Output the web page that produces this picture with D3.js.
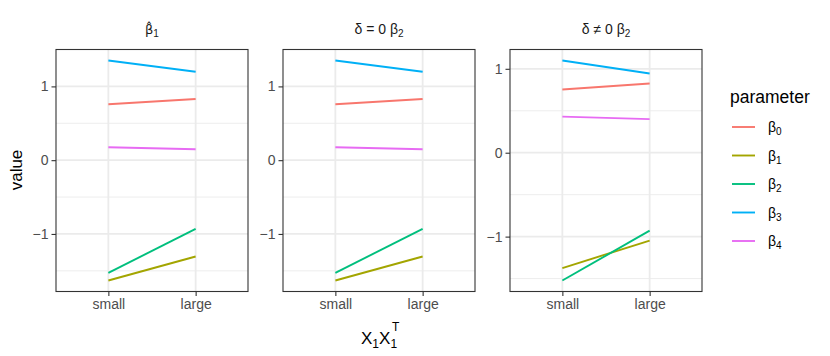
<!DOCTYPE html>
<html>
<head>
<meta charset="utf-8">
<script src="https://cdn.jsdelivr.net/npm/d3@7"></script>
<style>
  body { margin: 0; background: #fff; }
  text { font-family: "Liberation Sans", Arial, sans-serif; }
</style>
</head>
<body>
<svg id="chart" width="830" height="356"></svg>
<script>
"use strict";

// data
var sizes = ["small", "large"];
var paramIdx = ["0", "1", "2", "3", "4"];
var paramColors = ["#F8766D", "#A3A500", "#00BF7D", "#00B0F6", "#E76BF3"];

// beta_0 .. beta_4, at small / large
var betaHatSmall   = [0.757, -1.631, -1.527, 1.351, 0.176];
var betaHatLarge   = [0.829, -1.306, -0.932, 1.198, 0.149];
var delta0Small    = [0.757, -1.631, -1.527, 1.351, 0.176];
var delta0Large    = [0.829, -1.306, -0.932, 1.198, 0.149];
var deltaNe0Small  = [0.754, -1.375, -1.523, 1.099, 0.430];
var deltaNe0Large  = [0.825, -1.047, -0.929, 0.944, 0.400];

var facets = [
  {key: "hat", small: betaHatSmall, large: betaHatLarge},
  {key: "d0", small: delta0Small, large: delta0Large},
  {key: "dne0", small: deltaNe0Small, large: deltaNe0Large}
];

var svg = d3.select("#chart");

var panelTop = 49.5, panelBottom = 291.5;
var panelW = 192, panelStep = 227, firstLeft = 56;

facets.forEach(function(f, fi) {
  var left = firstLeft + fi * panelStep;
  var g = svg.append("g").attr("transform", "translate(" + left + ",0)");

  // ggplot discrete expansion: 0.6 units each side
  var x = d3.scaleLinear().domain([0.4, 2.6]).range([0, panelW]);
  var xPos = function(s) { return x(sizes.indexOf(s) + 1); };

  var all = f.small.concat(f.large);
  var lo = d3.min(all), hi = d3.max(all), pad = (hi - lo) * 0.05;
  var y = d3.scaleLinear().domain([lo - pad, hi + pad]).range([panelBottom, panelTop]);

  var major = d3.range(Math.ceil(lo - pad), Math.floor(hi + pad) + 1);
  var minor = d3.range(Math.ceil(lo - pad) - 0.5, Math.floor(hi + pad) + 1, 1)
    .filter(function(v) { return v >= lo - pad && v <= hi + pad; });

  // grid
  g.selectAll(".minor").data(minor).enter().append("line")
    .attr("x1", 0).attr("x2", panelW)
    .attr("y1", function(d) { return y(d); }).attr("y2", function(d) { return y(d); })
    .attr("stroke", "#ebebeb").attr("stroke-width", 0.9);
  g.selectAll(".major").data(major).enter().append("line")
    .attr("x1", 0).attr("x2", panelW)
    .attr("y1", function(d) { return y(d); }).attr("y2", function(d) { return y(d); })
    .attr("stroke", "#ebebeb").attr("stroke-width", 1.8);
  g.selectAll(".xgrid").data(sizes).enter().append("line")
    .attr("y1", panelTop).attr("y2", panelBottom)
    .attr("x1", xPos).attr("x2", xPos)
    .attr("stroke", "#ebebeb").attr("stroke-width", 1.8);

  // lines
  paramIdx.forEach(function(p, i) {
    var pts = [["small", f.small[i]], ["large", f.large[i]]];
    g.append("path")
      .attr("d", d3.line().x(function(d) { return xPos(d[0]); }).y(function(d) { return y(d[1]); })(pts))
      .attr("fill", "none").attr("stroke", paramColors[i]).attr("stroke-width", 1.9);
  });

  // border
  g.append("rect").attr("x", 0).attr("y", panelTop)
    .attr("width", panelW).attr("height", panelBottom - panelTop)
    .attr("fill", "none").attr("stroke", "#333333").attr("stroke-width", 1.1);

  // axes
  var yAxis = g.append("g")
    .call(d3.axisLeft(y).tickValues(major).tickSize(4.5).tickPadding(3)
      .tickFormat(function(d) { return d < 0 ? "\u2212" + Math.abs(d) : d; }));
  yAxis.select(".domain").remove();
  yAxis.selectAll("line").attr("stroke", "#333333").attr("stroke-width", 1.1);
  yAxis.selectAll("text").attr("fill", "#4d4d4d").style("font-size", "14px")
    .style("font-family", "Liberation Sans, Arial, sans-serif");

  var xAxis = g.append("g").attr("transform", "translate(0," + panelBottom + ")")
    .call(d3.axisBottom(x).tickValues([1, 2]).tickSize(4.5).tickPadding(3)
      .tickFormat(function(d) { return sizes[d - 1]; }));
  xAxis.select(".domain").remove();
  xAxis.selectAll("line").attr("stroke", "#333333").attr("stroke-width", 1.1);
  xAxis.selectAll("text").attr("fill", "#4d4d4d").style("font-size", "14px")
    .style("font-family", "Liberation Sans, Arial, sans-serif");

  // strip title
  var cx = panelW / 2;
  var t = g.append("text").attr("x", cx).attr("y", 34)
    .attr("text-anchor", "middle").attr("fill", "#1a1a1a").style("font-size", "14px");
  if (f.key === "hat") {
    // beta with combining circumflex (DejaVu places the mark properly)
    t.append("tspan").style("font-family", "DejaVu Sans").style("font-size", "13px").text("\u03b2\u0302");
    t.append("tspan").attr("dy", 3).style("font-size", "10px").text("1");
  } else {
    t.append("tspan").text(f.key === "d0" ? "\u03b4 = 0 \u03b2" : "\u03b4 \u2260 0 \u03b2");
    t.append("tspan").attr("dy", 3).style("font-size", "10px").text("2");
  }
});

// axis titles
svg.append("text").attr("transform", "translate(22,170) rotate(-90)")
  .attr("text-anchor", "middle").attr("fill", "#000").style("font-size", "17px").text("value");

var xt = svg.append("text").attr("x", 361).attr("y", 344).attr("fill", "#000").style("font-size", "17px");
xt.append("tspan").text("X");
xt.append("tspan").attr("dy", 4).style("font-size", "12px").text("1");
xt.append("tspan").attr("dy", -4).text("X");
xt.append("tspan").attr("dy", 4).style("font-size", "12px").text("1");
xt.append("tspan").attr("x", 392).attr("dy", -17).style("font-size", "12px").text("T");

// legend
var legend = svg.append("g");
legend.append("text").attr("x", 730).attr("y", 103).attr("fill", "#000")
  .style("font-size", "17.5px").text("parameter");
paramIdx.forEach(function(p, i) {
  var ly = 127 + i * 28.5;
  legend.append("line").attr("x1", 732).attr("x2", 755).attr("y1", ly).attr("y2", ly)
    .attr("stroke", paramColors[i]).attr("stroke-width", 1.9);
  var lt = legend.append("text").attr("x", 768).attr("y", ly + 5).attr("fill", "#000").style("font-size", "14px");
  lt.append("tspan").text("\u03b2");
  lt.append("tspan").attr("dy", 3).style("font-size", "10px").text(p);
});
</script>
</body>
</html>
